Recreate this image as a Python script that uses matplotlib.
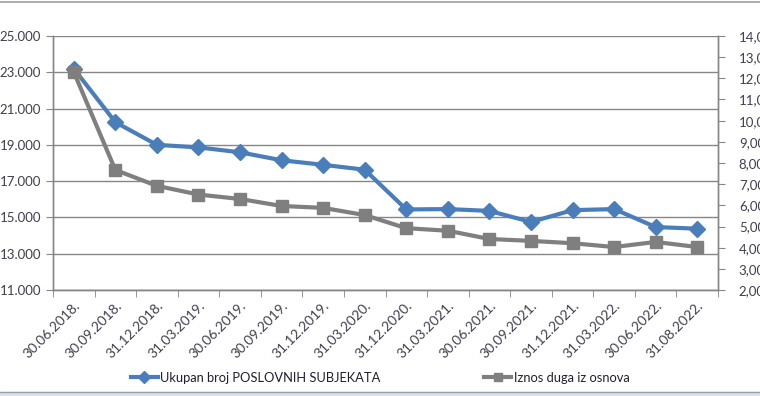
import matplotlib
matplotlib.use('Agg')
import matplotlib.pyplot as plt
import numpy as np
from matplotlib.lines import Line2D
from matplotlib.patches import Rectangle

# Data
dates = ['30.06.2018.', '30.09.2018.', '31.12.2018.', '31.03.2019.',
         '30.06.2019.', '30.09.2019.', '31.12.2019.', '31.03.2020.',
         '31.12.2020.', '31.03.2021.', '30.06.2021.', '30.09.2021.',
         '31.12.2021.', '31.03.2022.', '30.06.2022.', '31.08.2022.']
subjekti = [23200, 20250, 19000, 18860, 18590, 18150, 17900, 17630,
            15440, 15460, 15360, 14750, 15400, 15460, 14470, 14380]
dug = [12.30, 7.67, 6.92, 6.51, 6.30, 5.97, 5.88, 5.54,
       4.92, 4.80, 4.41, 4.32, 4.21, 4.03, 4.27, 4.03]

left_ticks = np.arange(11000, 25001, 2000)
right_ticks = np.arange(2, 14.01, 1)

blue = '#4a7ebb'
gray = '#7f7f7f'
axis_col = '#868686'
txt_col = '#3f3f4f'

plt.rcParams['font.family'] = ['Lato', 'DejaVu Sans']

fig = plt.figure(figsize=(7.6, 3.96), dpi=100)
ax = fig.add_axes([53 / 760, 1 - 290 / 396, 665 / 760, 254 / 396])
ax2 = ax.twinx()

x = np.arange(len(dates))
ax.plot(x, subjekti, color=blue, lw=3, marker='D', markersize=8,
        label='Ukupan broj POSLOVNIH SUBJEKATA', zorder=3)
ax2.plot(x, dug, color=gray, lw=3, marker='s', markersize=8.5,
         label='Iznos duga iz osnova', zorder=3)

# left axis
ax.set_ylim(11000, 25000)
ax.set_yticks(left_ticks)
ax.set_yticklabels([f'{v:,.0f}'.replace(',', '.') for v in left_ticks])
ax.grid(axis='y', color=axis_col, lw=1)
ax.set_axisbelow(True)

# right axis
ax2.set_ylim(2, 14)
ax2.set_yticks(right_ticks)
ax2.set_yticklabels([f'{v:.2f}'.replace('.', ',') for v in right_ticks])

# category axis
ax.set_xlim(-0.5, len(dates) - 0.5)
ax.set_xticks(x)
ax.set_xticklabels(dates, rotation=45, ha='right', va='top',
                   rotation_mode='anchor')
ax.set_xticks(np.arange(-0.5, len(dates), 1), minor=True)
ax.tick_params(axis='x', which='major', length=0, pad=7,
               labelsize=10, colors=txt_col)
ax.tick_params(axis='x', which='minor', length=5, color=axis_col,
               direction='out')
ax.tick_params(axis='y', length=5, color=axis_col, labelsize=9.5,
               labelcolor=txt_col, pad=3.5)
ax2.tick_params(axis='y', length=5, color=axis_col, labelsize=9.5,
                labelcolor=txt_col, pad=10)

for a in (ax, ax2):
    a.spines['top'].set_visible(False)
    for s in ('left', 'right', 'bottom'):
        a.spines[s].set_color(axis_col)
        a.spines[s].set_linewidth(1)

# legend
h1, l1 = ax.get_legend_handles_labels()
h2, l2 = ax2.get_legend_handles_labels()
fig.legend(h1 + h2, l1 + l2, loc='center', bbox_to_anchor=(0.5, 1 - 378 / 396),
           ncol=2, frameon=False, fontsize=9.3, handlelength=2.1,
           handletextpad=0.2, columnspacing=8.0, markerscale=0.75,
           labelcolor='#1f1f2f')

# chart frame lines
fig.add_artist(Line2D([0, 1], [1 - 2 / 396, 1 - 2 / 396], color='#9aa0a8',
                      lw=1.2, transform=fig.transFigure))
fig.add_artist(Rectangle((0, 0), 1, 4 / 396, color='#d6e2f0',
                         transform=fig.transFigure))
fig.add_artist(Line2D([0, 1], [4 / 396, 4 / 396], color='#9aa0a8',
                      lw=1, transform=fig.transFigure))

fig.savefig('out.png', dpi=100)
